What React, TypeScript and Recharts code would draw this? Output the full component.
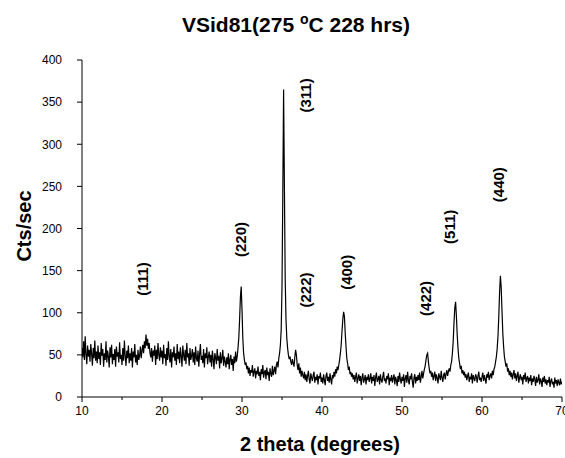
import { LineChart, Line, XAxis, YAxis, ReferenceDot } from "recharts";

// scan grid: 10 → 70 deg, 0.1 deg steps
const ANGLE_START = 10;
const ANGLE_STEP = 0.1;

// counts per second, one row = 2 degrees
const counts = [
  58, 47, 66, 44, 72, 50, 39, 61, 48, 56, 42, 63, 51, 37, 58, 46, 67, 43, 54, 40, // 10
  61, 45, 53, 38, 64, 49, 57, 36, 52, 44, 66, 41, 55, 48, 35, 59, 47, 62, 39, 51, // 12
  44, 57, 36, 60, 48, 53, 41, 65, 45, 50, 38, 58, 43, 67, 49, 37, 55, 46, 61, 40, // 14
  52, 43, 58, 35, 54, 47, 63, 41, 50, 38, 56, 44, 49, 60, 46, 55, 62, 52, 66, 58, // 16
  74, 61, 69, 57, 64, 52, 47, 58, 42, 55, 49, 61, 38, 56, 45, 64, 50, 43, 59, 47, // 18
  55, 39, 62, 46, 51, 37, 58, 44, 66, 48, 41, 57, 35, 53, 47, 60, 43, 52, 38, 63, // 20
  45, 54, 40, 59, 48, 36, 61, 50, 43, 56, 39, 64, 47, 52, 37, 58, 44, 49, 57, 41, // 22
  53, 38, 60, 46, 42, 55, 36, 51, 63, 44, 49, 40, 57, 35, 52, 46, 59, 39, 48, 54, // 24
  41, 50, 36, 55, 45, 33, 52, 47, 39, 57, 43, 49, 34, 53, 40, 46, 56, 37, 48, 42, // 26
  35, 47, 39, 52, 33, 44, 50, 38, 45, 31, 48, 40, 54, 42, 48, 58, 70, 92, 118, 131, // 28
  104, 70, 52, 44, 38, 41, 33, 37, 28, 35, 25, 32, 29, 38, 24, 30, 34, 22, 31, 27, // 30
  36, 25, 30, 20, 33, 27, 38, 23, 29, 32, 21, 35, 26, 30, 19, 34, 28, 24, 37, 26, // 32
  31, 36, 27, 38, 42, 35, 46, 52, 62, 80, 130, 240, 365, 250, 140, 92, 70, 58, 50, 45, // 34
  48, 42, 38, 45, 40, 36, 47, 56, 50, 38, 32, 40, 28, 35, 24, 31, 26, 22, 30, 20, // 36
  27, 18, 25, 31, 21, 16, 28, 23, 19, 26, 30, 17, 24, 20, 27, 15, 25, 22, 29, 18, // 38
  23, 16, 27, 20, 14, 25, 29, 19, 24, 17, 28, 21, 15, 26, 22, 30, 24, 33, 28, 36, // 40
  32, 38, 44, 52, 62, 78, 92, 101, 96, 76, 60, 46, 40, 32, 36, 27, 30, 24, 28, 21, // 42
  26, 18, 24, 29, 16, 22, 27, 19, 25, 14, 23, 28, 17, 21, 26, 15, 24, 20, 27, 18, // 44
  22, 28, 16, 24, 19, 26, 13, 23, 29, 18, 21, 25, 15, 27, 20, 17, 24, 30, 19, 22, // 46
  16, 25, 21, 28, 14, 23, 19, 26, 17, 22, 27, 15, 24, 20, 13, 25, 18, 29, 21, 16, // 48
  24, 19, 27, 12, 22, 26, 17, 30, 20, 15, 25, 21, 28, 18, 11, 23, 27, 16, 24, 19, // 50
  26, 20, 29, 17, 24, 31, 22, 28, 33, 37, 44, 50, 52, 42, 34, 28, 31, 24, 29, 20, // 52
  25, 30, 19, 27, 22, 16, 28, 24, 20, 31, 23, 18, 26, 29, 21, 27, 32, 25, 30, 34, // 54
  30, 38, 42, 52, 66, 88, 106, 113, 96, 74, 58, 46, 40, 33, 37, 28, 32, 26, 30, 23, // 56
  27, 20, 25, 29, 18, 24, 21, 28, 16, 26, 22, 19, 27, 24, 17, 25, 30, 20, 23, 18, // 58
  24, 29, 19, 26, 21, 16, 27, 23, 30, 20, 25, 28, 22, 31, 26, 33, 36, 42, 48, 58, // 60
  72, 96, 125, 144, 130, 102, 76, 60, 48, 42, 36, 40, 30, 34, 26, 31, 24, 29, 21, 27, // 62
  32, 22, 28, 19, 25, 30, 17, 23, 27, 20, 24, 15, 26, 21, 29, 18, 22, 25, 16, 23, // 64
  19, 26, 14, 22, 18, 25, 21, 13, 24, 17, 20, 27, 15, 22, 19, 12, 23, 18, 25, 16, // 66
  21, 14, 20, 17, 24, 12, 19, 22, 15, 18, 11, 23, 16, 20, 13, 21, 17, 14, 22, 15, // 68
  18, // 70
];

const xTicks = [10, 15, 20, 25, 30, 35, 40, 45, 50, 55, 60, 65, 70];
const yTicks = [0, 50, 100, 150, 200, 250, 300, 350, 400];

// hkl labels, placed in data units
const peakLabels = ["(111)", "(220)", "(311)", "(222)", "(400)", "(422)", "(511)", "(440)"];
const peakLabelAngles = [17.5, 29.75, 37.9, 37.9, 43.0, 52.9, 55.9, 62.1];
const peakLabelHeights = [140, 187, 358, 127, 148, 117, 202, 252];

const FONT = '"Liberation Sans", Arial, sans-serif';

const data = counts.map((c, i) => ({
  angle: Math.round((ANGLE_START + i * ANGLE_STEP) * 10) / 10,
  cps: c,
}));

// eslint-disable-next-line @typescript-eslint/no-explicit-any
function AngleTick({ x, y, payload }: any) {
  const major = payload.value % 10 === 0;
  return (
    <g>
      <line x1={x} y1={y} x2={x} y2={y + (major ? 5 : 3)} stroke="#000" />
      {major && (
        <text x={x} y={y + 18} textAnchor="middle" fontSize={12} fontFamily={FONT} fill="#000">
          {payload.value}
        </text>
      )}
    </g>
  );
}

export default function App() {
  return (
    <div style={{ position: "absolute", left: 0, top: 0, width: 565, height: 458, background: "#fff", fontFamily: FONT }}>
      <div
        style={{
          position: "absolute", left: 296, top: 14, transform: "translateX(-50%)",
          fontSize: 21, lineHeight: "21px", fontWeight: "bold", whiteSpace: "nowrap", color: "#000",
        }}
      >
        VSid81(275 <span style={{ fontSize: 14, position: "relative", top: -8 }}>o</span>C 228 hrs)
      </div>
      <div
        style={{
          position: "absolute", left: 24, top: 226, transform: "translate(-50%, -50%) rotate(-90deg)",
          fontSize: 20, lineHeight: "20px", fontWeight: "bold", whiteSpace: "nowrap", color: "#000",
        }}
      >
        Cts/sec
      </div>
      <div
        style={{
          position: "absolute", left: 320, top: 434, transform: "translateX(-50%)",
          fontSize: 20, lineHeight: "20px", fontWeight: "bold", whiteSpace: "nowrap", color: "#000",
        }}
      >
        2 theta (degrees)
      </div>
      <LineChart
        width={565}
        height={458}
        data={data}
        margin={{ top: 60, right: 3, bottom: 0, left: 0 }}
      >
        <XAxis
          dataKey="angle"
          type="number"
          domain={[10, 70]}
          ticks={xTicks}
          interval={0}
          allowDataOverflow
          height={61}
          tickSize={0}
          tickMargin={0}
          tickLine={false}
          axisLine={{ stroke: "#000" }}
          tick={<AngleTick />}
        />
        <XAxis
          xAxisId="top"
          orientation="top"
          type="number"
          domain={[10, 70]}
          ticks={xTicks}
          interval={0}
          height={0}
          mirror
          tick={false}
          tickSize={5}
          axisLine={{ stroke: "#000" }}
          tickLine={{ stroke: "#000" }}
        />
        <YAxis
          type="number"
          domain={[0, 400]}
          ticks={yTicks}
          interval={0}
          width={82}
          tickSize={5}
          tickMargin={15}
          axisLine={{ stroke: "#000" }}
          tickLine={{ stroke: "#000" }}
          tick={{ fontSize: 12, fill: "#000", fontFamily: FONT }}
        />
        <YAxis
          yAxisId="right"
          orientation="right"
          type="number"
          domain={[0, 400]}
          ticks={yTicks}
          interval={0}
          width={0}
          mirror
          tick={false}
          tickSize={6}
          axisLine={{ stroke: "#000" }}
          tickLine={{ stroke: "#000" }}
        />
        <Line
          type="linear"
          dataKey="cps"
          stroke="#000"
          strokeWidth={1.2}
          dot={false}
          isAnimationActive={false}
        />
        {peakLabels.map((lbl, i) => (
          <ReferenceDot
            key={lbl}
            x={peakLabelAngles[i]}
            y={peakLabelHeights[i]}
            r={0}
            // eslint-disable-next-line @typescript-eslint/no-explicit-any
            shape={(p: any) => (
              <text
                transform={`translate(${p.cx},${p.cy}) rotate(-90)`}
                textAnchor="middle"
                dominantBaseline="central"
                fontSize={15}
                fontWeight="bold"
                fontFamily={FONT}
                fill="#000"
              >
                {lbl}
              </text>
            )}
          />
        ))}
      </LineChart>
    </div>
  );
}
